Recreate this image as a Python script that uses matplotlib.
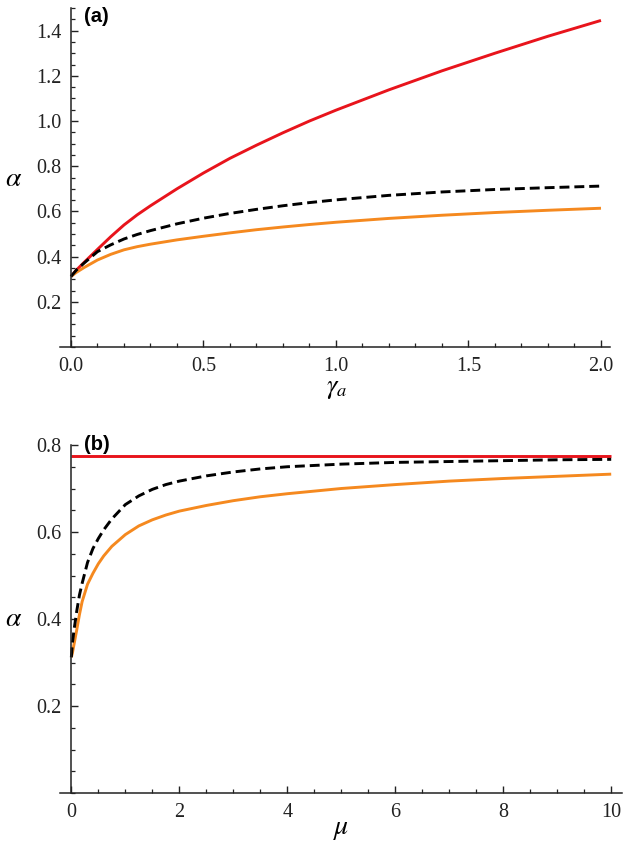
import matplotlib
matplotlib.use("Agg")
import matplotlib.pyplot as plt
from matplotlib.ticker import MultipleLocator, FixedLocator

# ---------------- data ----------------
# panel (a): alpha vs gamma_a
gamma_a = [0, 0.02, 0.05, 0.1, 0.15, 0.2, 0.25, 0.3, 0.4, 0.5, 0.6, 0.7, 0.8,
           0.9, 1.0, 1.2, 1.4, 1.6, 1.8, 2.0]
red_a = [0.312, 0.34, 0.375, 0.432, 0.488, 0.54, 0.585, 0.625, 0.70, 0.77,
         0.835, 0.893, 0.948, 1.000, 1.048, 1.138, 1.222, 1.30, 1.375, 1.445]
black_a = [0.312, 0.34, 0.372, 0.422, 0.452, 0.478, 0.498, 0.515, 0.545, 0.57,
           0.591, 0.609, 0.625, 0.639, 0.651, 0.671, 0.686, 0.697, 0.705,
           0.712]
orange_a = [0.312, 0.33, 0.352, 0.385, 0.41, 0.43, 0.444, 0.455, 0.474, 0.49,
            0.505, 0.519, 0.531, 0.542, 0.552, 0.569, 0.583, 0.595, 0.605,
            0.614]

# panel (b): alpha vs mu
mu = [0, 0.02, 0.05, 0.1, 0.15, 0.2, 0.3, 0.4, 0.5, 0.6, 0.75, 1.0, 1.25,
      1.5, 1.75, 2.0, 2.5, 3.0, 3.5, 4, 5, 6, 7, 8, 9, 10]
black_b = [0.312, 0.345, 0.375, 0.418, 0.455, 0.482, 0.53, 0.562, 0.585,
           0.605, 0.630, 0.663, 0.683, 0.698, 0.709, 0.717, 0.729, 0.738,
           0.745, 0.750, 0.756, 0.760, 0.762, 0.764, 0.766, 0.767]
orange_b = [0.312, 0.322, 0.342, 0.375, 0.41, 0.44, 0.48, 0.505, 0.527,
            0.545, 0.567, 0.594, 0.614, 0.628, 0.639, 0.648, 0.661, 0.672,
            0.681, 0.688, 0.700, 0.709, 0.717, 0.723, 0.728, 0.733]
mu_red = [0, 10]
red_b = [0.774, 0.774]

xticks_a = [0.0, 0.5, 1.0, 1.5, 2.0]
yticks_a = [0.2, 0.4, 0.6, 0.8, 1.0, 1.2, 1.4]
xticks_b = [0, 2, 4, 6, 8, 10]
yticks_b = [0.2, 0.4, 0.6, 0.8]

# ---------------- style ----------------
plt.rcParams['mathtext.fontset'] = 'stix'
plt.rcParams['font.family'] = ['Liberation Serif', 'DejaVu Serif']

RED = '#e8141c'
ORANGE = '#f5891f'
LW = 2.1
DASH = (0, (3.4, 1.7))
TICKFS = 14.5

W, H = 623, 844
fig = plt.figure(figsize=(W / 100, H / 100), dpi=100)


def box(l, t, r, b):
    return [l / W, 1 - b / H, (r - l) / W, (b - t) / H]


def style(ax, xmaj, xmin_step, ymaj, ymin_step, xfmt, yfmt):
    for s in ('top', 'right'):
        ax.spines[s].set_visible(False)
    ax.spines['left'].set_position(('data', 0))
    ax.spines['bottom'].set_position(('data', 0))
    for s in ('left', 'bottom'):
        ax.spines[s].set_linewidth(1.1)
        ax.spines[s].set_color('#222222')
    ax.xaxis.set_major_locator(FixedLocator(xmaj))
    ax.yaxis.set_major_locator(FixedLocator(ymaj))
    ax.xaxis.set_minor_locator(MultipleLocator(xmin_step))
    ax.yaxis.set_minor_locator(MultipleLocator(ymin_step))
    ax.set_xticklabels([xfmt(v) for v in xmaj])
    ax.set_yticklabels([yfmt(v) for v in ymaj])
    ax.tick_params(which='both', direction='in', color='#222222')
    ax.tick_params(which='major', length=5.0, width=1.0)
    ax.tick_params(which='minor', length=3.0, width=0.9)
    ax.tick_params(axis='y', which='major', pad=7, labelsize=TICKFS)
    ax.tick_params(axis='x', which='major', pad=7, labelsize=TICKFS)
    for lab in ax.get_xticklabels() + ax.get_yticklabels():
        lab.set_color('#222222')


# ---------- panel (a) ----------
axa = fig.add_axes(box(60, 8, 610, 347))
axa.plot(gamma_a, red_a, color=RED, lw=LW, solid_capstyle='butt')
axa.plot(gamma_a, orange_a, color=ORANGE, lw=LW, solid_capstyle='butt')
axa.plot(gamma_a, black_a, color='black', lw=LW, linestyle=DASH)
axa.set_xlim(-0.0415, 2.034)
axa.set_ylim(0, 1.5)
style(axa, xticks_a, 0.1, yticks_a, 0.05,
      lambda v: f"{v:.1f}", lambda v: f"{v:.1f}")
axa.patch.set_alpha(0)
fig.text(14 / W, 1 - 180 / H, r'$\alpha$', fontsize=20, ha='center', va='center')
fig.text(337 / W, 1 - 390 / H, r'$\gamma_a$', fontsize=19, ha='center', va='center')
fig.text(84 / W, 1 - 16 / H, '(a)', fontsize=14.5, fontweight='bold',
         family=['Liberation Sans', 'DejaVu Sans'], ha='left', va='center')

# ---------- panel (b) ----------
axb = fig.add_axes(box(60, 445, 622, 793))
axb.plot(mu_red, red_b, color=RED, lw=LW, solid_capstyle='butt', clip_on=False)
axb.plot(mu, orange_b, color=ORANGE, lw=LW, solid_capstyle='butt')
axb.plot(mu, black_b, color='black', lw=LW, linestyle=DASH)
axb.set_xlim(-0.21, 10.2)
axb.set_ylim(0, 0.8)
style(axb, xticks_b, 0.5, yticks_b, 0.05,
      lambda v: f"{v:d}", lambda v: f"{v:.1f}")
axb.patch.set_alpha(0)
fig.text(14 / W, 1 - 620 / H, r'$\alpha$', fontsize=20, ha='center', va='center')
fig.text(341 / W, 1 - 830 / H, r'$\mu$', fontsize=20, ha='center', va='center')
fig.text(84 / W, 1 - 444 / H, '(b)', fontsize=14.5, fontweight='bold',
         family=['Liberation Sans', 'DejaVu Sans'], ha='left', va='center')

fig.savefig('out.png', dpi=100)
